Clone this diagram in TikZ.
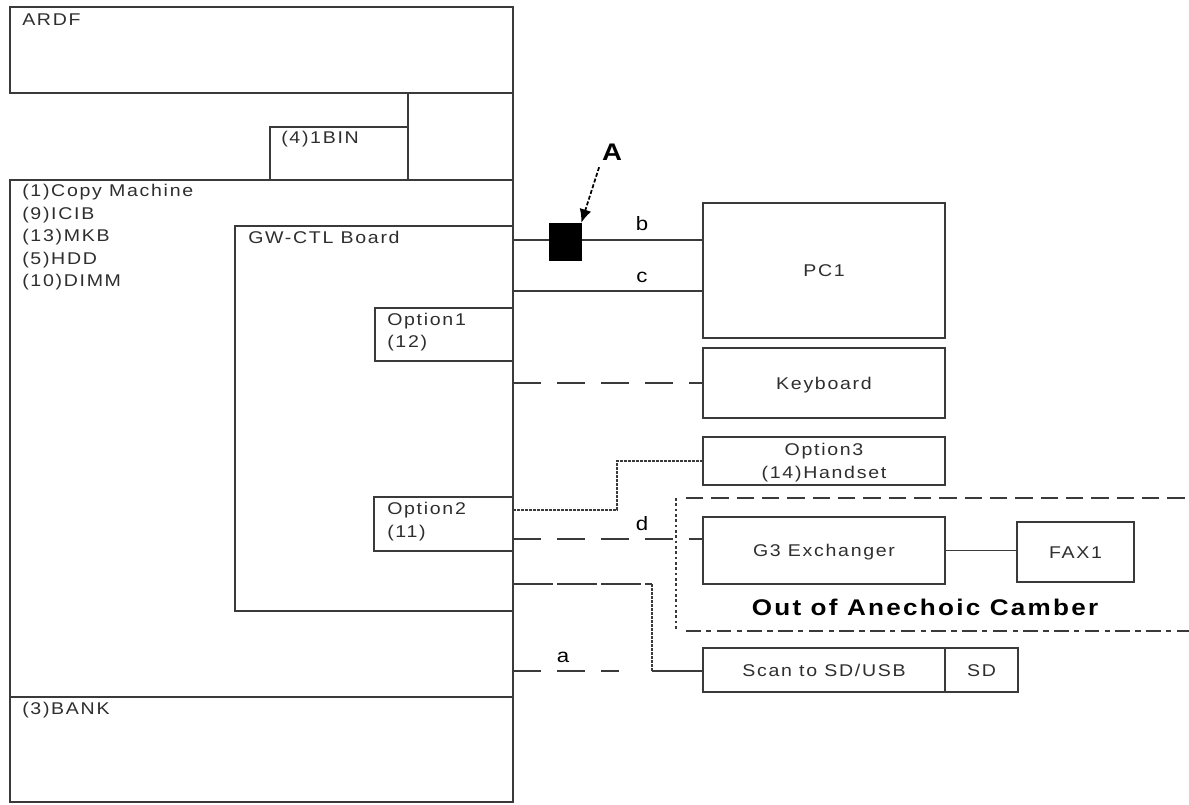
\documentclass[tikz,border=0pt]{standalone}
\usepackage{fontspec}
\setmainfont{Liberation Sans}[FakeStretch=1.15,LetterSpace=10]
\usetikzlibrary{fit,arrows.meta}
\definecolor{ln}{HTML}{3A3A3A}
\definecolor{txt}{HTML}{2E2E2E}
\newcommand\dgmfont{\fontsize{12.75}{17.25}\selectfont}
\begin{document}
\begin{tikzpicture}[x=0.75pt,y=-0.75pt,
  box/.style={draw=ln, line width=1.5pt, inner sep=0pt, outer sep=0pt},
  boxtxt/.style={inner sep=0pt, text=txt, font=\dgmfont, text height=9.1pt, text depth=0pt},
  lbl/.style={anchor=base west, inner sep=0pt, text=txt, font=\dgmfont},
  elbl/.style={inner sep=0pt, text=black, font=\fontsize{14.5}{16}\selectfont},
  conn/.style={draw=ln, line width=1.4pt},
  dashl/.style={draw=ln, line width=1.4pt, dash pattern=on 21pt off 12pt},
  dotl/.style={draw=ln, line width=2pt, dash pattern=on 2pt off 1pt},
  thickdash/.style={draw=ln, line width=2pt, dash pattern=on 30pt off 3pt},
  regv/.style={draw=ln, line width=2.2pt, dash pattern=on 2pt off 2pt},
  regtop/.style={draw=ln, line width=1.4pt, dash pattern=on 13pt off 6pt},
  regbot/.style={draw=ln, line width=1.4pt, dash pattern=on 11pt off 4pt on 4pt off 4pt},
  arr/.style={draw=black, line width=1.3pt, dash pattern=on 3pt off 1.5pt, -{Latex[length=10pt,width=9pt]}}
]
\useasboundingbox (0,0) rectangle (1189,804);

% ---- left machine ----
\node[box, fit={(10,7) (513,93)}] (ardf) {};
\node[lbl] (ardft) at (22,25) {ARDF};
\node[box, fit={(408,93) (513,180)}] (upper) {};
\node[box, fit={(270,127) (408,180)}] (bin) {};
\node[lbl] (bint) at (281,143) {(4)1BIN};
\node[box, fit={(10,180) (513,697)}] (cm) {};
\node[lbl] (cm1) at (22,196) {(1)Copy Machine};
\node[lbl] (cm2) at (22,219) {(9)ICIB};
\node[lbl] (cm3) at (22,241) {(13)MKB};
\node[lbl] (cm4) at (22,264) {(5)HDD};
\node[lbl] (cm5) at (22,286) {(10)DIMM};
\node[box, fit={(235,226) (513,611)}] (gw) {};
\node[lbl] (gwt) at (248,243) {GW-CTL Board};
\node[box, fit={(375,308) (513,361)}] (opt1) {};
\node[lbl] (opt1a) at (387,325) {Option1};
\node[lbl] (opt1b) at (387,347) {(12)};
\node[box, fit={(374,497) (513,551)}] (opt2) {};
\node[lbl] (opt2a) at (387,514) {Option2};
\node[lbl] (opt2b) at (387,537) {(11)};
\node[box, fit={(10,697) (513,802)}] (bank) {};
\node[lbl] (bankt) at (22,714) {(3)BANK};

% ---- right devices ----
\node[box, fit={(703,203) (945,338)}] (pc1) {};
\node[boxtxt] (pc1t) at (pc1.center) {PC1};
\node[box, fit={(703,348) (945,418)}] (kb) {};
\node[boxtxt] (kbt) at (kb.center) {Keyboard};
\node[box, fit={(703,437) (945,485)}] (opt3) {};
\node[boxtxt, yshift=8.6pt] (opt3t) at (opt3.center) {Option3};
\node[boxtxt, yshift=-8.6pt] (opt3u) at (opt3.center) {(14)Handset};
\node[box, fit={(703,517) (945,584)}] (g3) {};
\node[boxtxt] (g3t) at (g3.center) {G3 Exchanger};
\node[box, fit={(1017,522) (1134,582)}] (fax) {};
\node[boxtxt] (faxt) at (fax.center) {FAX1};
\node[box, fit={(703,648) (945,692)}] (scan) {};
\node[boxtxt] (scant) at (scan.center) {Scan to SD/USB};
\node[box, fit={(945,648) (1018,692)}] (sd) {};
\node[boxtxt] (sdt) at (sd.center) {SD};

% ---- out of chamber region ----
\draw[regv] (676,498) -- (676,631);
\draw[regtop] (686,498) -- (1189,498);
\draw[regbot] (686,631) -- (1189,631);
\node[inner sep=0pt, text=black, font=\bfseries\fontsize{17}{20}\selectfont] (ooa) at (925,607) {Out of Anechoic Camber};

% ---- connectors ----
\coordinate (yb) at (0,240);
\coordinate (yc) at (0,291);
\coordinate (yo) at (0,510);
\coordinate (yd) at (0,539);
\coordinate (ys) at (0,584);
\coordinate (ya) at (0,671);
\coordinate (c3) at (617,461);
\coordinate (s1) at (652,584);
\coordinate (s2) at (652,671);
\coordinate (aend) at (619,671);

\draw[conn] (cm.east |- yb) -- (pc1.west |- yb);
\node[fill=black, draw=black, line width=0.5pt, inner sep=0pt, fit={(549,223) (581,260)}] (blk) {};
\draw[conn] (cm.east |- yc) -- (pc1.west |- yc);
\draw[dashl] (cm.east |- kb.west) -- (kb.west);
\draw[dotl] (opt2.east |- yo) -| (c3) -- (opt3.west);
\draw[dashl] (opt2.east |- yd) -- (g3.west |- yd);
\draw[conn] (g3.east) -- (g3.east -| fax.west);
\draw[thickdash] (cm.east |- ys) -- (s1);
\draw[dotl] (s1) -- (s2);
\draw[conn] (s2) -- (scan.west |- s2);
\draw[dashl] (cm.east |- ya) -- (aend);

% ---- labels ----
\node[elbl] (lb) at (642,224) {b};
\node[elbl] (lc) at (642,277) {c};
\node[elbl] (ld) at (642,524) {d};
\node[elbl] (la) at (563,657) {a};
\node[inner sep=1pt, text=black, font=\bfseries\fontsize{18}{20}\selectfont] (alab) at (612,152) {A};
\draw[arr] ([xshift=-1pt,yshift=-4pt]alab.south west) -- (blk.north east);
\end{tikzpicture}
\end{document}
